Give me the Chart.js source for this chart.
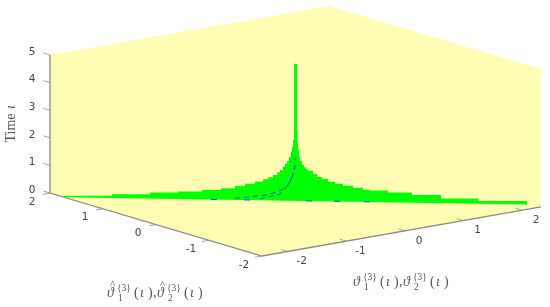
<!DOCTYPE html>
<html lang="en">

<head>
    <meta charset="UTF-8">
    <script src="https://cdn.jsdelivr.net/npm/chart.js"></script>
    <title>Time response</title>
    <style>
        body { margin: 0; background: #fff; }
        canvas { display: block; }
    </style>
</head>

<body>
    <canvas id="myChart" width="550" height="307"></canvas>

<script>
// axis ticks
const timeTicks = [0, 1, 2, 3, 4, 5];
const hatTicks = [2, 1, 0, -1, -2];
const plainTicks = [-2, -1, 0, 1, 2];

// axis limits
const hatLimits = [-2, 2];
const plainLimits = [-2.44, 2.32];
const timeLimits = [0, 5];

// green fan: position along the fan and time of its upper edge
const fanS = [-2.354, -2.354, -1.866, -1.479, -1.195, -0.951, -0.758, -0.615, -0.513, -0.412, -0.330, -0.280, -0.229, -0.188, -0.158, -0.127, -0.107, -0.086, -0.066, -0.046, -0.036, -0.025, -0.015, -0.015, 0.015, 0.015, 0.020, 0.025, 0.036, 0.046, 0.066, 0.086, 0.107, 0.127, 0.178, 0.219, 0.269, 0.330, 0.402, 0.483, 0.585, 0.686, 0.757, 0.941, 1.185, 1.479, 1.856, 2.354];
const fanT = [0, 0.053, 0.141, 0.220, 0.272, 0.346, 0.419, 0.510, 0.588, 0.677, 0.768, 0.836, 0.929, 1.022, 1.114, 1.225, 1.335, 1.444, 1.590, 1.773, 1.955, 2.209, 2.572, 4.963, 4.970, 2.573, 2.102, 1.849, 1.596, 1.452, 1.308, 1.222, 1.147, 1.094, 0.988, 0.881, 0.812, 0.707, 0.638, 0.570, 0.503, 0.436, 0.414, 0.352, 0.282, 0.171, 0.100, 0];
const fanBaseS = [-2.354, 2.354];
const fanBaseT = [0, 0];

// blue dashed trajectories
const blueAS = [-0.615, -0.432, -0.290, -0.208, -0.137, -0.076, -0.036, -0.005, -0.005];
const blueAT = [0.057, 0.132, 0.201, 0.290, 0.391, 0.576, 0.832, 1.232, 1.558];
const blueBS = [-0.361, -0.259, -0.158, -0.107, -0.056, -0.025];
const blueBT = [0.053, 0.142, 0.245, 0.418, 0.649, 1.013];
const blueBaseS = [-0.829, -0.493, 0.137, 0.422, 0.727];
const blueBaseT = [0.005, 0.005, 0.005, 0.005, 0.005];

// projection of the 3D view on the page
function projetar(a, b, t) {
    return {
        x: 262 - 53 * (a + 2) + 58.6 * (b + 2.44),
        y: 256 - 15.75 * (a + 2) - 10.3 * (b + 2.44) - 27.6 * t
    };
}

// the fan lies on a straight line of the floor
function projetarFan(s, t) {
    return projetar(-0.0353 - 0.75 * s, -0.0916 + s, t);
}

function pontosFan(listaS, listaT) {
    return listaS.map(function (s, i) { return projetarFan(s, listaT[i]); });
}

function serie(pontos, extra) {
    return Object.assign({ data: pontos, showLine: true, pointRadius: 0, borderWidth: 0, fill: false }, extra);
}

const aMin = hatLimits[0], aMax = hatLimits[1];
const bMin = plainLimits[0], bMax = plainLimits[1];
const tTop = timeLimits[1];

const corGrade = '#8c8c80';
const corTick = '#a8a8a0';
const corAzul = '#1f4fd0';

let datasets = [
    // walls and floor
    serie([projetar(aMax, bMin, tTop), projetar(aMax, bMax, tTop), projetar(aMin, bMax, tTop)],
        { fill: '+1', backgroundColor: '#fffdb3', order: 9 }),
    serie([projetar(aMax, bMin, 0), projetar(aMin, bMin, 0), projetar(aMin, bMax, 0)], { order: 9 }),
    // fan
    serie(pontosFan(fanS, fanT), { stepped: 'before', fill: '+1', backgroundColor: '#00ff00', order: 5 }),
    serie(pontosFan(fanBaseS, fanBaseT), { order: 5 }),
    // trajectories
    serie(pontosFan(blueAS, blueAT), { borderColor: corAzul, borderWidth: 1, borderDash: [5, 4], order: 2 }),
    serie(pontosFan(blueBS, blueBT), { borderColor: corAzul, borderWidth: 1, borderDash: [5, 4], order: 2 }),
    // box edges
    serie([projetar(aMax, bMin, tTop), projetar(aMax, bMin, 0), projetar(aMin, bMin, 0), projetar(aMin, bMax, 0)],
        { borderColor: corGrade, borderWidth: 1.3, order: 1 })
];

// short blue dashes on the floor
blueBaseS.forEach(function (s, i) {
    datasets.push(serie(pontosFan([s - 0.03, s + 0.03], [blueBaseT[i], blueBaseT[i]]), { borderColor: corAzul, borderWidth: 1, order: 2 }));
});

// tick marks
timeTicks.forEach(function (t) {
    datasets.push(serie([projetar(aMax, bMin, t), projetar(aMax + 0.13, bMin, t)], { borderColor: corTick, borderWidth: 1, order: 1 }));
});
hatTicks.forEach(function (a) {
    datasets.push(serie([projetar(a, bMin, 0), projetar(a, bMin - 0.12, 0)], { borderColor: corTick, borderWidth: 1, order: 1 }));
});
plainTicks.forEach(function (b) {
    datasets.push(serie([projetar(aMin, b, 0), projetar(aMin + 0.13, b, 0)], { borderColor: corTick, borderWidth: 1, order: 1 }));
});

// one math label: symbol with hat (or not), superscript and subscript, twice
function desenharRotulo(ctx, x, y, chapeu) {
    ctx.fillStyle = '#555';
    ctx.textAlign = 'left';
    ctx.textBaseline = 'alphabetic';
    [[0, '1'], [50, '2']].forEach(function (parte) {
        const x0 = x + parte[0];
        ctx.font = 'italic 14px "Liberation Serif"';
        ctx.fillText('\u03D1', x0, y);
        if (chapeu) {
            ctx.font = '11px "Liberation Serif"';
            ctx.fillText('\u005E', x0 + 3, y - 9);
        }
        ctx.font = '9.5px "Liberation Serif"';
        ctx.fillText('{3}', x0 + 10, y - 6);
        ctx.fillText(parte[1], x0 + 11, y + 4);
        ctx.font = '14px "Liberation Serif"';
        ctx.fillText('(', x0 + 27, y);
        ctx.fillText(')', x0 + 41, y);
        ctx.font = 'italic 14px "Liberation Serif"';
        ctx.fillText('\u03B9', x0 + 33, y);
    });
    ctx.font = '14px "Liberation Serif"';
    ctx.fillText(',', x + 46, y);
}

// text of the axes, placed through the chart scales
const textos = {
    id: 'textos',
    afterDraw: function (chart) {
        const ctx = chart.ctx;
        const sx = chart.scales.x, sy = chart.scales.y;
        ctx.save();
        ctx.font = '10.5px "DejaVu Sans"';
        ctx.fillStyle = '#444';
        ctx.textAlign = 'center';
        ctx.textBaseline = 'middle';

        timeTicks.forEach(function (t) {
            const p = projetar(aMax, bMin, t);
            ctx.fillText(String(t), sx.getPixelForValue(p.x) - 18, sy.getPixelForValue(p.y) - 3);
        });
        hatTicks.forEach(function (a) {
            const p = projetar(a, bMin, 0);
            ctx.fillText(String(a), sx.getPixelForValue(p.x) - 18, sy.getPixelForValue(p.y) + 9);
        });
        plainTicks.forEach(function (b) {
            const p = projetar(aMin, b, 0);
            ctx.fillText(String(b), sx.getPixelForValue(p.x) + 14, sy.getPixelForValue(p.y) + 10);
        });

        desenharRotulo(ctx, 107, 297, true);
        desenharRotulo(ctx, 353, 286, false);

        ctx.translate(15, 124);
        ctx.rotate(-Math.PI / 2);
        ctx.fillStyle = '#555';
        ctx.textAlign = 'center';
        ctx.font = '14px "Liberation Serif"';
        ctx.fillText('Time', -4, 0);
        ctx.font = 'italic 14px "Liberation Serif"';
        ctx.fillText('\u03B9', 17, 0);
        ctx.restore();
    }
};

new Chart(document.getElementById('myChart'), {
    type: 'scatter',
    data: { datasets: datasets },
    options: {
        responsive: false,
        animation: false,
        layout: { padding: 0 },
        plugins: { legend: { display: false }, tooltip: { enabled: false } },
        scales: {
            x: { display: false, min: 0, max: 550 },
            y: { display: false, min: 0, max: 307, reverse: true }
        }
    },
    plugins: [textos]
});
</script>
</body>

</html>
